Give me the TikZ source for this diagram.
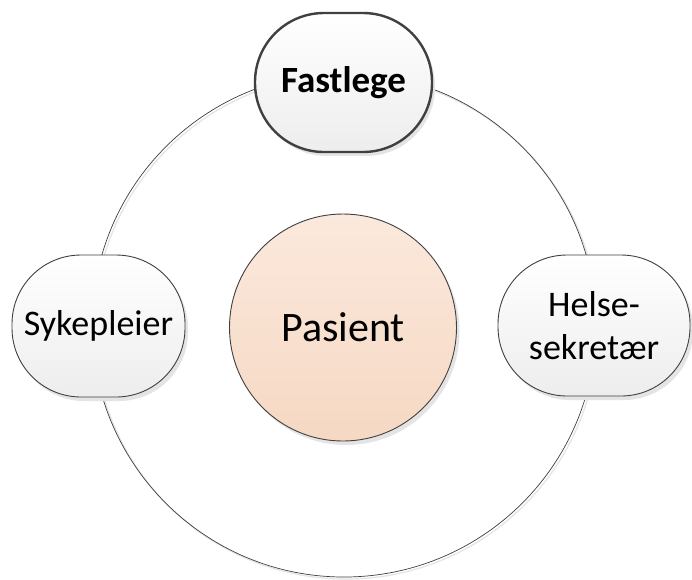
\documentclass[tikz,border=0pt]{standalone}
\usepackage{fontspec}
\setmainfont{Carlito}
\usetikzlibrary{shadows}
\definecolor{edge}{HTML}{404040}
\definecolor{boxtop}{HTML}{FFFFFF}
\definecolor{boxbot}{HTML}{EDEDED}
\definecolor{pastop}{HTML}{FBE9DD}
\definecolor{pasbot}{HTML}{F6D8C3}
\definecolor{shadowgray}{HTML}{E4E4E4}
\tikzset{
  myshadow/.style={drop shadow={shadow xshift=3pt, shadow yshift=-4pt, fill=shadowgray, opacity=1}},
  rolebox/.style={draw=edge, line width=0.9pt, rounded corners=69pt, top color=boxtop, bottom color=boxbot,
    myshadow, align=center, inner sep=0pt, font=\fontsize{36}{43}\selectfont},
  pasnode/.style={circle, draw=edge, line width=0.9pt, top color=pastop, bottom color=pasbot,
    myshadow, minimum size=227pt, inner sep=0pt, font=\fontsize{42}{50}\selectfont},
  ring/.style={draw=edge, line width=0.7pt}
}
\begin{document}
\begin{tikzpicture}[x=1pt,y=-1pt]
\useasboundingbox (0,0) rectangle (692,579);
\fill[white] (0,0) rectangle (692,579);
\coordinate (ctr) at (344,325);
\draw[draw=shadowgray, line width=1.2pt] ([xshift=2pt,yshift=-2pt]ctr) circle[radius=252pt];
\draw[ring] (ctr) circle[radius=252pt];
\node[pasnode] (pas) at (343,327.5) {Pasient};
\node[rolebox, minimum width=177pt, minimum height=139pt, line width=2.4pt] (fast) at (343.5,82.5) {\fontsize{37}{44}\selectfont\bfseries Fastlege};
\node[rolebox, minimum width=173pt, minimum height=142pt] (syk) at (98.5,326) {Sykepleier};
\node[rolebox, minimum width=192pt, minimum height=141pt] (hel) at (594,325.5) {Helse-\\sekretær};
\end{tikzpicture}
\end{document}
